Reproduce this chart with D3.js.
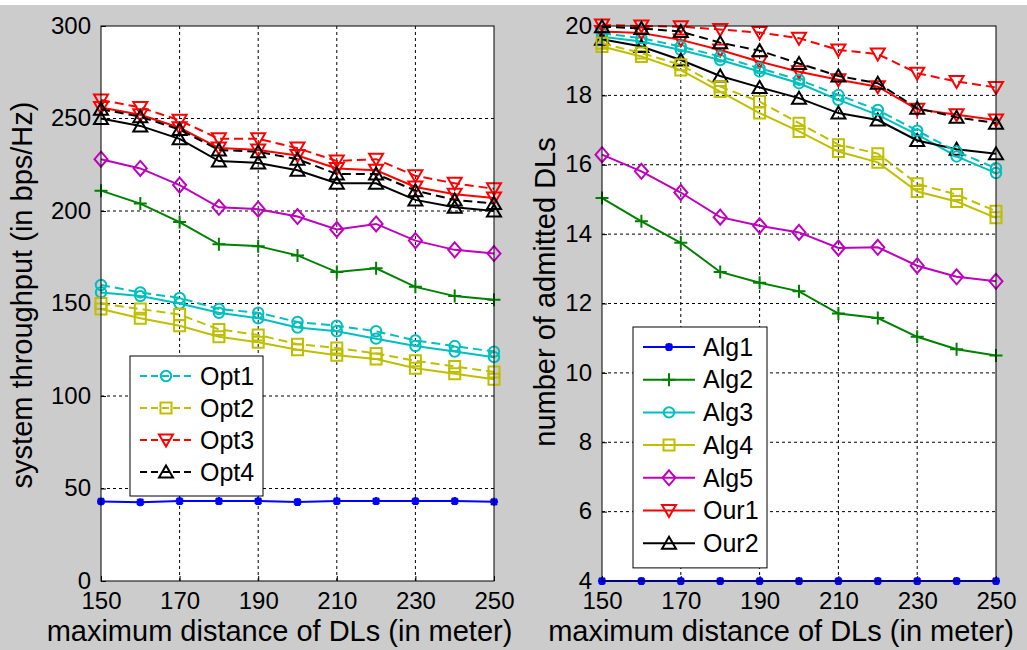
<!DOCTYPE html>
<html>
<head>
<meta charset="utf-8">
<script src="https://cdn.jsdelivr.net/npm/d3@7"></script>
<style>
  body { margin: 0; background: #cccccc; }
  svg { display: block; font-family: "Liberation Sans", Arial, sans-serif; }
</style>
</head>
<body>
<svg id="chart" width="1027" height="650"></svg>
<script>
// x values shared by both panels
const distances = [150, 160, 170, 180, 190, 200, 210, 220, 230, 240, 250];
const xTicks = [150, 170, 190, 210, 230, 250];

// left panel: system throughput (bps/Hz)
const thrTicks = [0, 50, 100, 150, 200, 250, 300];
const thrAlg1 = [43, 42.6, 43.2, 43.2, 43.2, 42.7, 43.2, 43.2, 43.2, 43.2, 42.8];
const thrAlg2 = [211, 204, 194, 182, 181, 176, 167, 169, 159, 154, 152];
const thrAlg3 = [156, 154, 150, 145, 142, 137, 135, 131, 127, 124, 121];
const thrAlg4 = [147, 142, 138, 132, 129, 125, 122, 120, 115, 112, 109];
const thrAlg5 = [228, 223, 214, 202, 201, 197, 190, 193, 184, 179, 177];
const thrOur1 = [256, 252, 245, 234, 233, 230, 223, 222, 213, 209, 207];
const thrOur2 = [250, 246, 239, 227, 226, 222, 215, 215, 206, 202, 200];
const thrOpt1 = [160, 156, 153, 147, 145, 140, 138, 135, 130, 127, 124];
const thrOpt2 = [150, 147, 144, 136, 133, 128, 126, 123, 119, 116, 113];
const thrOpt3 = [260, 256, 249, 239, 239, 234, 227, 228, 219, 215, 212];
const thrOpt4 = [255, 251, 244, 233, 232, 228, 220, 220, 211, 206, 204];

// right panel: number of admitted DLs
const dlTicks = [4, 6, 8, 10, 12, 14, 16, 18, 20];
const dlAlg1 = [4, 4, 4, 4, 4, 4, 4, 4, 4, 4, 4];
const dlAlg2 = [15.04, 14.37, 13.75, 12.91, 12.6, 12.35, 11.71, 11.58, 11.04, 10.68, 10.5];
const dlAlg3 = [19.69, 19.55, 19.31, 19.02, 18.69, 18.35, 17.87, 17.44, 16.87, 16.24, 15.76];
const dlAlg4 = [19.41, 19.12, 18.73, 18.11, 17.49, 16.96, 16.38, 16.07, 15.23, 14.94, 14.47];
const dlAlg5 = [16.29, 15.81, 15.2, 14.49, 14.24, 14.05, 13.6, 13.62, 13.09, 12.77, 12.64];
const dlOur1 = [19.84, 19.8, 19.6, 19.31, 18.97, 18.68, 18.45, 18.25, 17.6, 17.44, 17.29];
const dlOur2 = [19.62, 19.41, 19.02, 18.56, 18.23, 17.92, 17.49, 17.29, 16.7, 16.45, 16.32];
const dlOpt1 = [19.79, 19.65, 19.41, 19.12, 18.78, 18.45, 18.01, 17.58, 16.98, 16.38, 15.9];
const dlOpt2 = [19.5, 19.22, 18.88, 18.25, 17.82, 17.2, 16.58, 16.32, 15.45, 15.14, 14.66];
const dlOpt3 = [20.03, 20, 19.98, 19.9, 19.81, 19.65, 19.31, 19.19, 18.64, 18.4, 18.23];
const dlOpt4 = [19.98, 19.93, 19.84, 19.52, 19.29, 18.92, 18.56, 18.35, 17.63, 17.37, 17.2];

const seriesNames = ["Alg1", "Alg2", "Alg3", "Alg4", "Alg5", "Our1", "Our2", "Opt1", "Opt2", "Opt3", "Opt4"];

const styles = {
    Alg1: { color: "#0000ff", dash: null, marker: "star" },
    Alg2: { color: "#008000", dash: null, marker: "plus" },
    Alg3: { color: "#00bfbf", dash: null, marker: "circle" },
    Alg4: { color: "#bfbf00", dash: null, marker: "square" },
    Alg5: { color: "#bf00bf", dash: null, marker: "diamond" },
    Our1: { color: "#ff0000", dash: null, marker: "down" },
    Our2: { color: "#000000", dash: null, marker: "up" },
    Opt1: { color: "#00bfbf", dash: "9,5", marker: "circle" },
    Opt2: { color: "#bfbf00", dash: "9,5", marker: "square" },
    Opt3: { color: "#ff0000", dash: "9,5", marker: "down" },
    Opt4: { color: "#000000", dash: "9,5", marker: "up" }
};

const tickFont = 24;
const labelFont = 29;

const svg = d3.select("#chart");
svg.append("rect").attr("width", 1027).attr("height", 650).attr("fill", "#cccccc");
svg.append("rect").attr("width", 1027).attr("height", 5).attr("fill", "#ffffff");

function markerPath(type) {
    switch (type) {
        case "circle": return d3.symbol(d3.symbolCircle, 85)();
        case "square": return "M-5.5,-5.5H5.5V5.5H-5.5Z";
        case "diamond": return "M0,-7.5L6.5,0L0,7.5L-6.5,0Z";
        case "up": return "M0,-6.5L7,5.5L-7,5.5Z";
        case "down": return "M0,6.5L7,-5.5L-7,-5.5Z";
        case "plus": return "M-6.5,0H6.5M0,-6.5V6.5";
        case "star": return "M-4,0H4M0,-4V4M-3,-3L3,3M-3,3L3,-3";
    }
}

function drawMarker(g, type, color) {
    g.append("path")
        .attr("d", markerPath(type))
        .attr("fill", type === "star" ? color : "none")
        .attr("stroke", color)
        .attr("stroke-width", type === "star" ? 2.5 : 2);
}

function panel(cfg) {
    const x = d3.scaleLinear().domain([150, 250]).range([cfg.left, cfg.right]);
    const y = d3.scaleLinear().domain(cfg.yDomain).range([cfg.bottom, cfg.top]);
    const g = svg.append("g");

    g.append("rect")
        .attr("x", cfg.left).attr("y", cfg.top)
        .attr("width", cfg.right - cfg.left).attr("height", cfg.bottom - cfg.top)
        .attr("fill", "#ffffff");

    // dotted grid
    g.append("g").selectAll("line").data(xTicks.slice(1, -1)).join("line")
        .attr("x1", d => x(d)).attr("x2", d => x(d))
        .attr("y1", cfg.top).attr("y2", cfg.bottom)
        .attr("stroke", "#000").attr("stroke-width", 1).attr("stroke-dasharray", "3,3");
    g.append("g").selectAll("line").data(cfg.yTicks.slice(1, -1)).join("line")
        .attr("x1", cfg.left).attr("x2", cfg.right)
        .attr("y1", d => y(d)).attr("y2", d => y(d))
        .attr("stroke", "#000").attr("stroke-width", 1).attr("stroke-dasharray", "3,3");

    // axes with inward ticks
    const xAxis = g.append("g")
        .attr("transform", `translate(0,${cfg.bottom})`)
        .call(d3.axisBottom(x).tickValues(xTicks).tickSizeInner(-5).tickSizeOuter(0).tickPadding(10));
    const yAxis = g.append("g")
        .attr("transform", `translate(${cfg.left},0)`)
        .call(d3.axisLeft(y).tickValues(cfg.yTicks).tickSizeInner(-5).tickSizeOuter(0).tickPadding(10));
    [xAxis, yAxis].forEach(a => {
        a.select(".domain").remove();
        a.selectAll("text").attr("font-size", tickFont).attr("fill", "#000")
            .attr("font-family", "Liberation Sans, Arial, sans-serif");
    });
    xAxis.selectAll("text").attr("dy", "0.71em").attr("y", 11);
    yAxis.selectAll("text").attr("dy", "0.3em");

    // data lines and markers
    const line = d3.line().x((d, i) => x(distances[i])).y(d => y(d));
    seriesNames.forEach(name => {
        const st = styles[name];
        const vals = cfg.data[name];
        g.append("path")
            .datum(vals)
            .attr("d", line)
            .attr("fill", "none")
            .attr("stroke", st.color)
            .attr("stroke-width", 2)
            .attr("stroke-dasharray", st.dash);
        g.append("g").selectAll("g").data(vals).join("g")
            .attr("transform", (d, i) => `translate(${x(distances[i])},${y(d)})`)
            .each(function () { drawMarker(d3.select(this), st.marker, st.color); });
    });

    // box
    g.append("rect")
        .attr("x", cfg.left).attr("y", cfg.top)
        .attr("width", cfg.right - cfg.left).attr("height", cfg.bottom - cfg.top)
        .attr("fill", "none").attr("stroke", "#000").attr("stroke-width", 1);

    // axis labels
    g.append("text")
        .attr("x", (cfg.left + cfg.right) / 2 - 18).attr("y", 641)
        .attr("text-anchor", "middle").attr("font-size", labelFont)
        .text("maximum distance of DLs (in meter)");
    g.append("text")
        .attr("transform", `translate(${cfg.yLabelX},${cfg.yLabelY}) rotate(-90)`)
        .attr("text-anchor", "middle").attr("font-size", labelFont)
        .text(cfg.yLabel);

    // legend
    const lg = cfg.legend;
    const leg = g.append("g");
    leg.append("rect")
        .attr("x", lg.x).attr("y", lg.y).attr("width", lg.w)
        .attr("height", lg.names.length * lg.step + 12)
        .attr("fill", "#fff").attr("stroke", "#000").attr("stroke-width", 1);
    lg.names.forEach((name, i) => {
        const st = styles[name];
        const cy = lg.y + 20 + i * lg.step;
        leg.append("line")
            .attr("x1", lg.x + 10).attr("x2", lg.x + 62)
            .attr("y1", cy).attr("y2", cy)
            .attr("stroke", st.color).attr("stroke-width", 2)
            .attr("stroke-dasharray", st.dash ? "7,4" : null);
        const m = leg.append("g").attr("transform", `translate(${lg.x + 36},${cy})`);
        drawMarker(m, st.marker, st.color);
        leg.append("text")
            .attr("x", lg.x + 70).attr("y", cy).attr("dy", "0.35em")
            .attr("font-size", tickFont + 1).text(name);
    });
}

panel({
    left: 101, right: 494, top: 26, bottom: 581,
    yDomain: [0, 300], yTicks: thrTicks,
    yLabel: "system throughput (in bps/Hz)", yLabelX: 32, yLabelY: 295,
    data: {
        Alg1: thrAlg1, Alg2: thrAlg2, Alg3: thrAlg3, Alg4: thrAlg4, Alg5: thrAlg5,
        Our1: thrOur1, Our2: thrOur2, Opt1: thrOpt1, Opt2: thrOpt2, Opt3: thrOpt3, Opt4: thrOpt4
    },
    legend: { x: 130, y: 356, w: 133, step: 32, names: ["Opt1", "Opt2", "Opt3", "Opt4"] }
});

panel({
    left: 602, right: 996, top: 26, bottom: 581,
    yDomain: [4, 20], yTicks: dlTicks,
    yLabel: "number of admitted DLs", yLabelX: 555, yLabelY: 292,
    data: {
        Alg1: dlAlg1, Alg2: dlAlg2, Alg3: dlAlg3, Alg4: dlAlg4, Alg5: dlAlg5,
        Our1: dlOur1, Our2: dlOur2, Opt1: dlOpt1, Opt2: dlOpt2, Opt3: dlOpt3, Opt4: dlOpt4
    },
    legend: { x: 633, y: 327, w: 134, step: 32.7, names: ["Alg1", "Alg2", "Alg3", "Alg4", "Alg5", "Our1", "Our2"] }
});
</script>
</body>
</html>
